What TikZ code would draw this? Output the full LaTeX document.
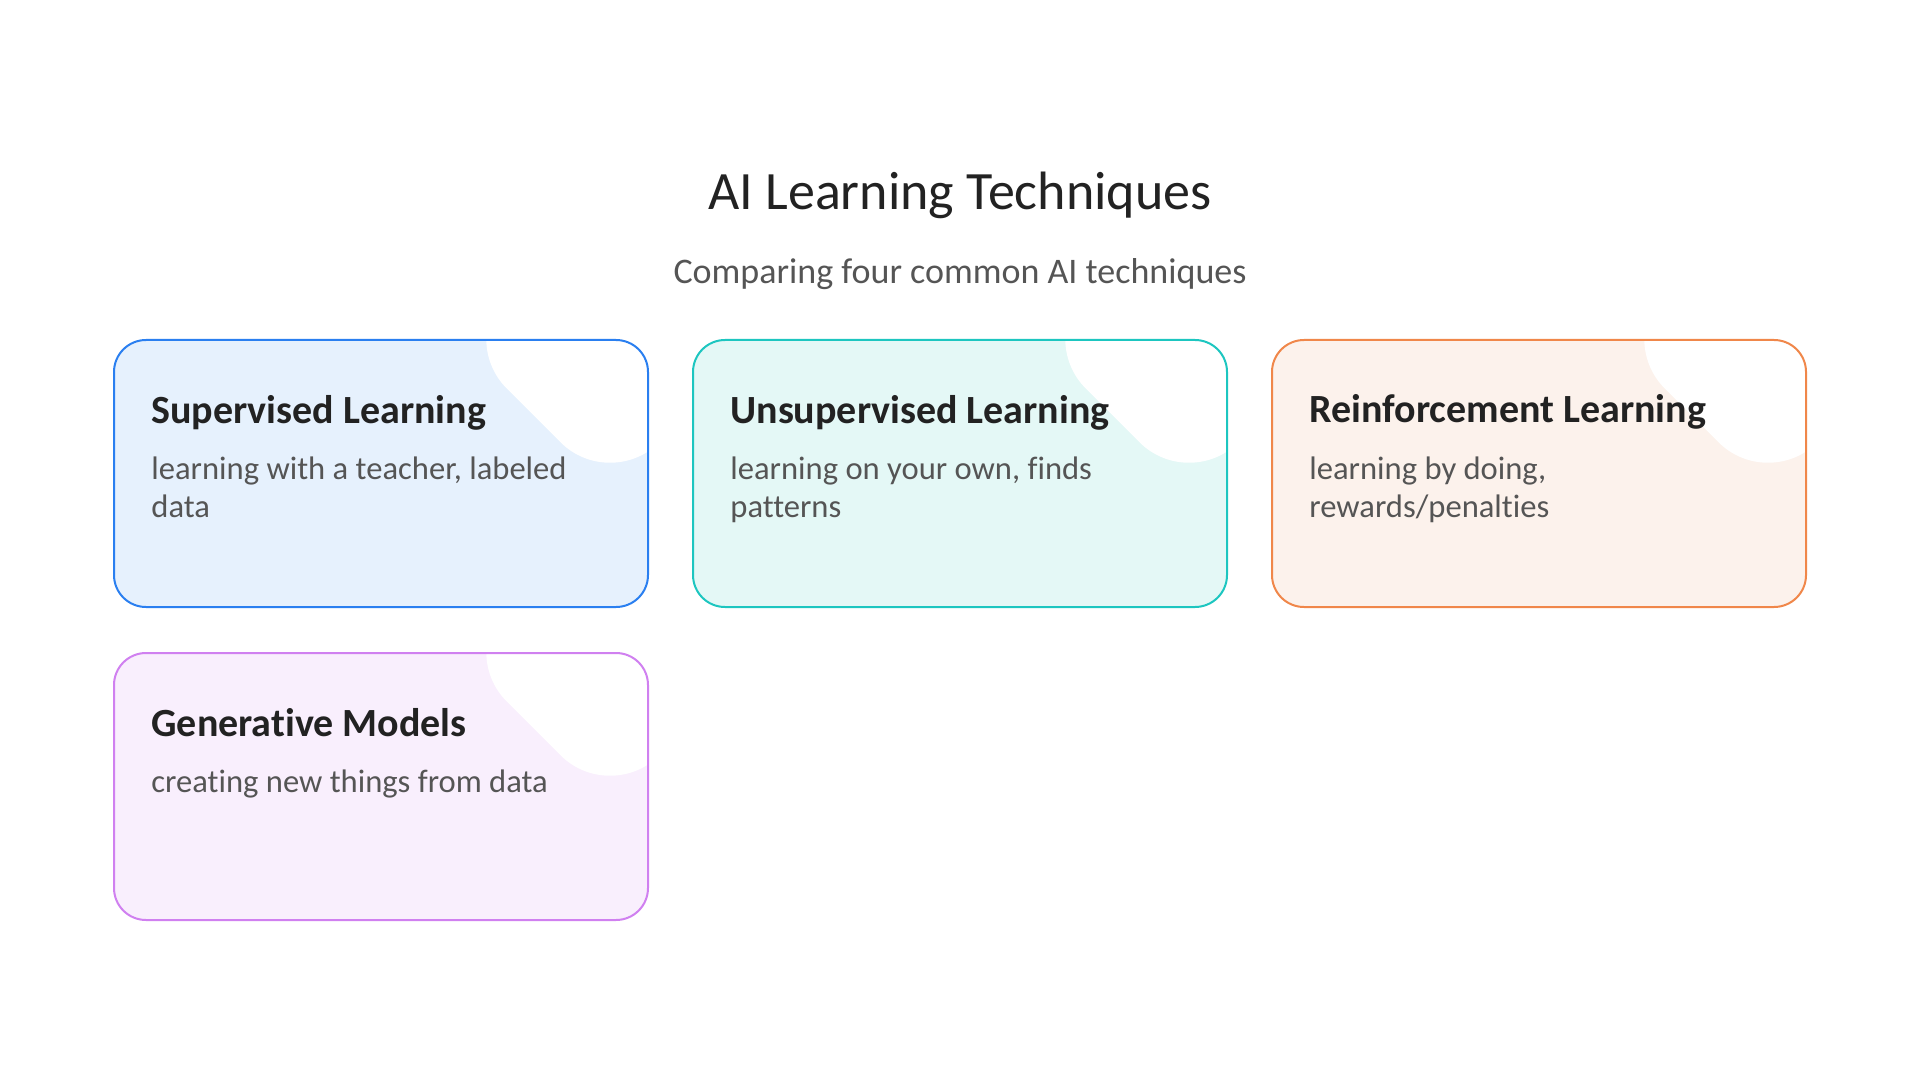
\documentclass[tikz,border=0pt]{standalone}
\usepackage{fontspec}
\setmainfont{Carlito}[Ligatures=NoCommon]
\usepackage{xcolor}
\definecolor{ink}{HTML}{222222}
\definecolor{muted}{HTML}{555555}
\definecolor{supline}{HTML}{2A7FF0}
\definecolor{supfill}{HTML}{E6F1FD}
\definecolor{unsline}{HTML}{1DC6C0}
\definecolor{unsfill}{HTML}{E4F8F6}
\definecolor{reiline}{HTML}{F0874A}
\definecolor{reifill}{HTML}{FCF2EC}
\definecolor{genline}{HTML}{D080F0}
\definecolor{genfill}{HTML}{F9EFFD}
\usetikzlibrary{positioning,calc}

\begin{document}
\begin{tikzpicture}[
  x=0.5pt,y=-0.5pt,
  every node/.style={inner sep=0pt},
  card/.style={line width=1pt,rounded corners=16pt,
              minimum width=267pt,minimum height=133.5pt},
  blob/.style={fill=white,rounded corners=35pt,minimum size=108pt,rotate=45},
  cardtitle/.style={anchor=base west,text=ink,font=\fontsize{20}{24}\selectfont\bfseries},
  carddesc/.style={anchor=north west,align=left,text=muted,
              font=\fontsize{16.3}{19}\selectfont},
]
\useasboundingbox (0,0) rectangle (1920,1080);

% --- heading
\node[text=ink,font=\fontsize{27}{32}\selectfont] (title) at (960,195)
   {AI Learning Techniques};
\node[text=muted,font=\fontsize{18}{22}\selectfont] (subtitle) at (960,274)
   {Comparing four common AI techniques};

% --- cards: fill, white corner blob, then border
\foreach \name/\cx/\cy/\tone in {sup/381/473.5/sup,uns/960/473.5/uns,
                                  rei/1539/473.5/rei,gen/381/786.5/gen}{
  \node[card,fill=\tone fill] (\name) at (\cx,\cy) {};
  \begin{scope}
    \clip[rounded corners=16pt] (\name.north west) rectangle (\name.south east);
    \node[blob] at ($(\name.north east)+(-39,0)$) {};
  \end{scope}
  \node[card,draw=\tone line] at (\cx,\cy) {};
}

% --- card texts
\node[cardtitle] (suptitle) at ($(sup.north west)+(38,84)$) {Supervised Learning};
\node[carddesc] (supdesc) at ($(sup.north west)+(38,117)$)
   {learning with a teacher, labeled\\data};

\node[cardtitle] (unstitle) at ($(uns.north west)+(38,84)$) {Unsupervised Learning};
\node[carddesc] (unsdesc) at ($(uns.north west)+(38,117)$)
   {learning on your own, finds\\patterns};

\node[cardtitle] (reititle) at ($(rei.north west)+(38,83)$) {Reinforcement Learning};
\node[carddesc] (reidesc) at ($(rei.north west)+(38,117)$)
   {learning by doing,\\rewards/penalties};

\node[cardtitle] (gentitle) at ($(gen.north west)+(38,84)$) {Generative Models};
\node[carddesc] (gendesc) at ($(gen.north west)+(38,117)$)
   {creating new things from data};

\end{tikzpicture}
\end{document}
